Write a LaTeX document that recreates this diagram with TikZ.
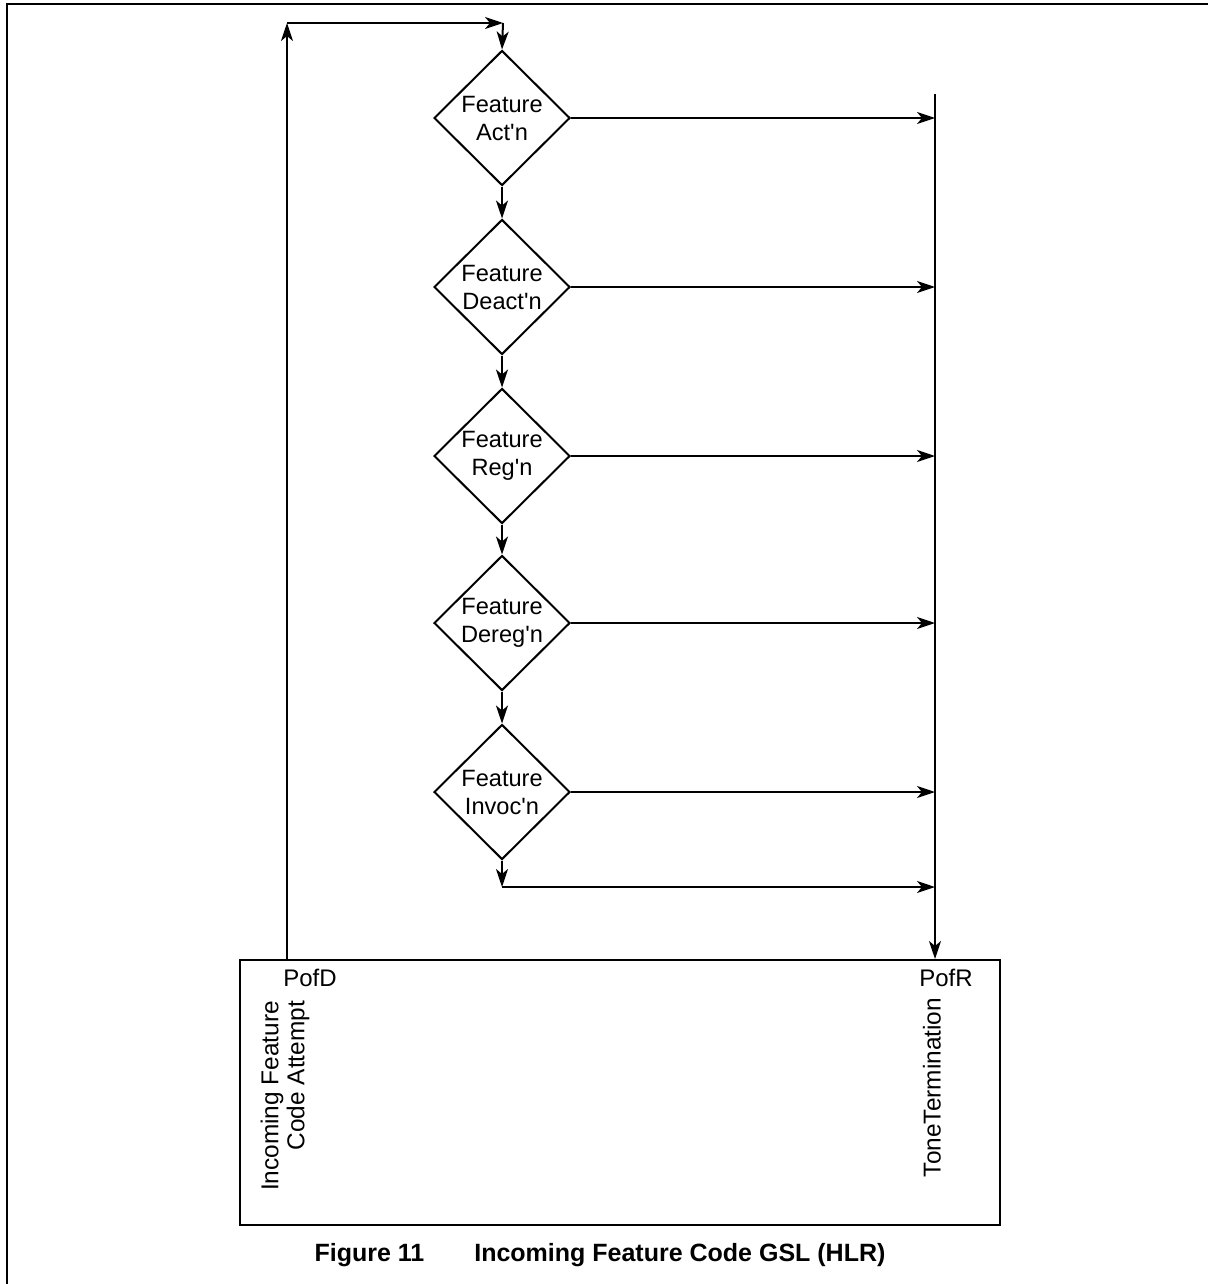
\documentclass[tikz,border=0pt]{standalone}
\usepackage{fontspec}
\setmainfont{Liberation Sans}
\usetikzlibrary{shapes.geometric,arrows.meta}
\begin{document}
\begin{tikzpicture}[x=0.5pt,y=-0.5pt,
  line width=1pt,
  arr/.style={-{Stealth[length=9pt,width=6pt,inset=2.5pt]}},
  dia/.style={draw,diamond,minimum width=68pt,minimum height=67.5pt,inner sep=0pt},
  lbl/.style={font=\fontsize{11.8}{14}\selectfont,align=center,inner sep=0pt},
  txt/.style={font=\fontsize{12}{13}\selectfont,inner sep=0pt}]
\useasboundingbox (0,0) rectangle (1208,1284);
% frame
\coordinate (fa) at (1208,4);
\coordinate (fb) at (7,4);
\coordinate (fc) at (7,1284);
\draw (fa) -- (fb) -- (fc);
% diamonds
\foreach \i/\y/\t in {1/118/Act\textquotesingle n,2/287/Deact\textquotesingle n,3/456/Reg\textquotesingle n,4/623/Dereg\textquotesingle n,5/792/Invoc\textquotesingle n}{
  \node[dia] (d\i) at (502,\y) {};
  \node[lbl] at (d\i) {Feature\\\t};
}
% box
\node[draw,minimum width=380pt,minimum height=132.5pt,inner sep=0pt] (box) at (620,1092.5) {};
\node[txt] (pofd) at (310,978) {PofD};
\node[txt] (pofr) at (946,978) {PofR};
\node[txt,rotate=90,anchor=east,align=right,font=\fontsize{12.2}{13}\selectfont] (inc) at (285,1000) {Incoming Feature\\Code Attempt};
\node[txt,rotate=90,anchor=east,font=\fontsize{12.2}{13}\selectfont] (tone) at (932,997) {ToneTermination};
% vertical bar
\coordinate (vt) at (935,94);
\draw[arr] (vt) -- (box.north -| vt);
% loop
\coordinate (lb) at (287,960);
\coordinate (lt) at (287,23);
\coordinate (rt) at (503,23);
\draw[arr] (lb) -- (lt);
\draw[arr] (lt) -- (rt);
\draw[arr] (rt) -- (d1.north);
% chain
\foreach \a/\b in {1/2,2/3,3/4,4/5}{
  \draw[arr] (d\a.south) -- (d\b.north);
}
\foreach \i in {1,...,5}{
  \draw[arr] (d\i.east) -- (d\i.east -| vt);
}
\coordinate (bot) at (502,887);
\draw[arr] (d5.south) -- (bot);
\draw[arr] (bot) -- (bot -| vt);
% caption
\node[font=\bfseries\fontsize{12.5}{14}\selectfont,inner sep=0pt] (cap) at (600,1255) {Figure 11\hspace{2em}Incoming Feature Code GSL (HLR)};
\end{tikzpicture}
\end{document}
